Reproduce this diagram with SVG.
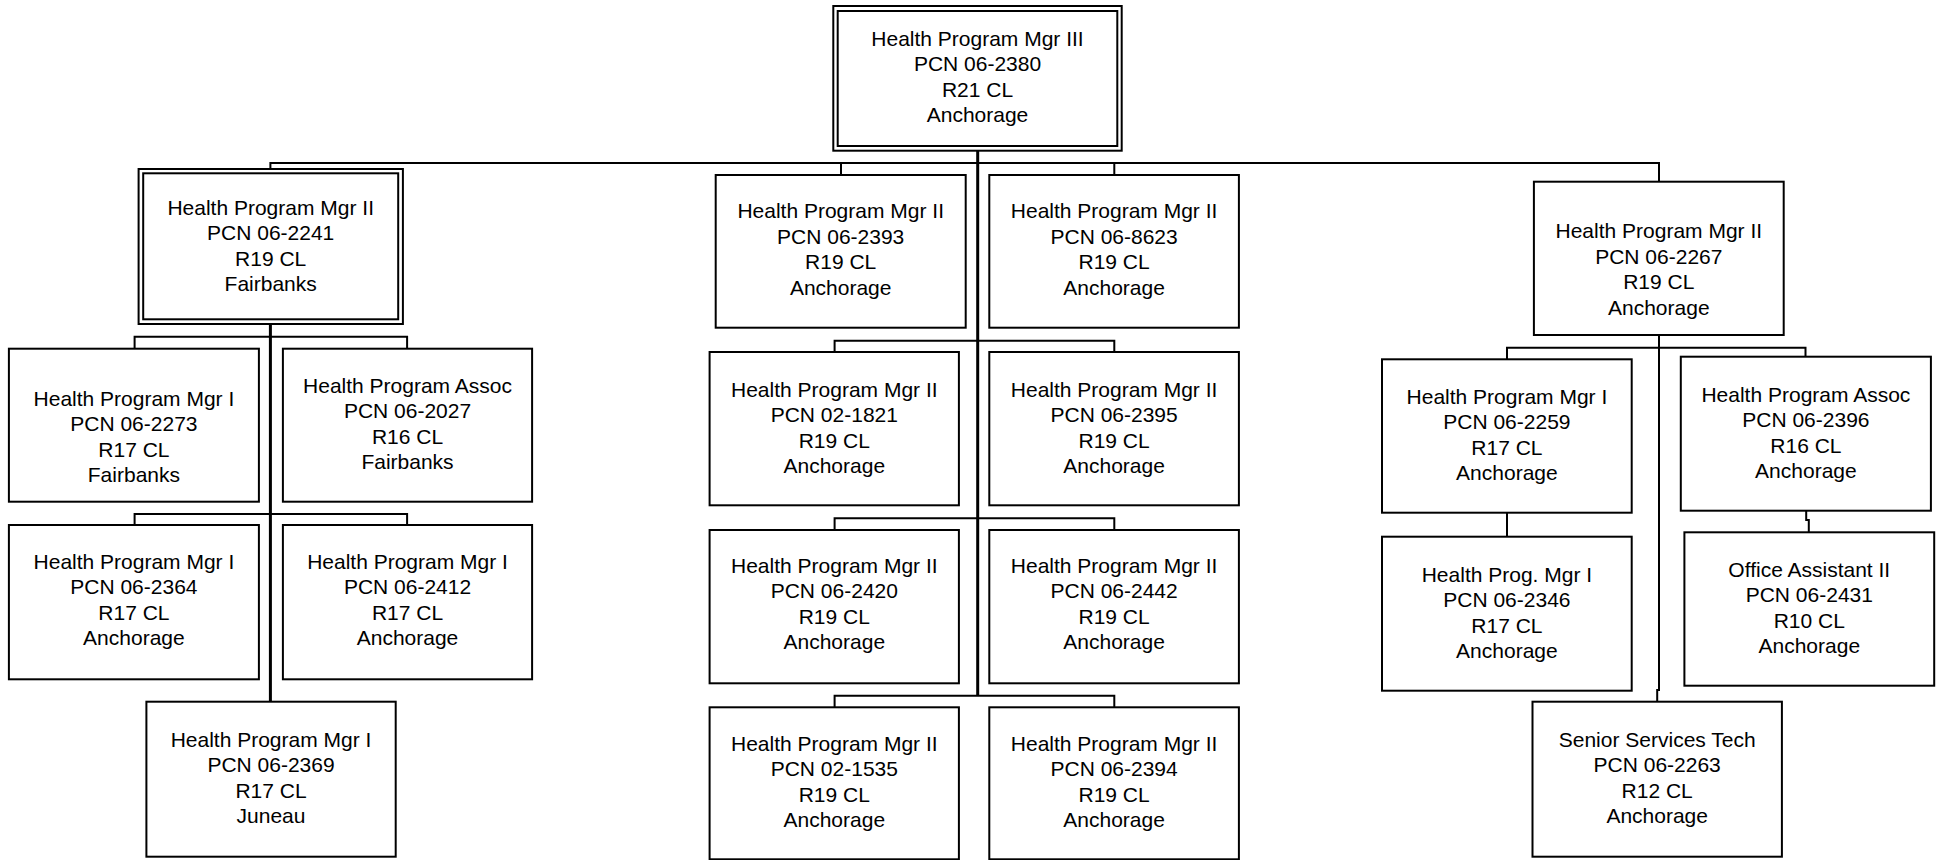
<svg xmlns="http://www.w3.org/2000/svg" width="1940" height="860" viewBox="0 0 1940 860">
<style>
.box{fill:#fff;stroke:#000;stroke-width:2}
.t{font-family:"Liberation Sans",Arial,sans-serif;font-size:21px;fill:#000;text-anchor:middle}
.c{fill:none;stroke:#000;stroke-width:2}
.k{fill:none;stroke:#000;stroke-width:3}
</style>
<rect width="1940" height="860" fill="#fff"/>
<g id="connectors">
<path class="k" d="M977.7 150.7V695.7"/>
<path class="c" d="M270.4 169V163H1659V181.7M841 163V175M1114.3 163V175"/>
<path class="c" d="M834.6 352V340.7H1114.3V352M834.6 530V518.3H1114.3V530M834.6 707.3V695.7H1114.3V707.3"/>
<path class="k" d="M270.4 324V701.7"/>
<path class="c" d="M134.6 348.7V336.7H407.1V348.7M134.6 525V514H407.1V525"/>
<path class="c" d="M1659 335V690H1657.2V701.7M1507 359.3V347.7H1805.5V356.7M1507 512.7V536.7M1806.2 510.7V520H1808.8V532.3"/>
</g>
<g id="n2380"><rect class="box" x="833.3" y="6" width="288.4" height="144.7"/><rect class="box" x="837.7" y="11" width="279.6" height="135"/>
<text class="t" x="977.5" y="46"><tspan x="977.5">Health Program Mgr III</tspan><tspan x="977.5" dy="25.4">PCN 06-2380</tspan><tspan x="977.5" dy="25.4">R21 CL</tspan><tspan x="977.5" dy="25.4">Anchorage</tspan></text></g>
<g id="n2241"><rect class="box" x="138.6" y="169" width="264.3" height="155"/><rect class="box" x="143.2" y="173.3" width="255" height="146"/>
<text class="t" x="270.7" y="215"><tspan x="270.7">Health Program Mgr II</tspan><tspan x="270.7" dy="25.4">PCN 06-2241</tspan><tspan x="270.7" dy="25.4">R19 CL</tspan><tspan x="270.7" dy="25.4">Fairbanks</tspan></text></g>
<g id="n2273"><rect class="box" x="8.9" y="348.7" width="250" height="153"/>
<text class="t" x="133.9" y="406"><tspan x="133.9">Health Program Mgr I</tspan><tspan x="133.9" dy="25.4">PCN 06-2273</tspan><tspan x="133.9" dy="25.4">R17 CL</tspan><tspan x="133.9" dy="25.4">Fairbanks</tspan></text></g>
<g id="n2027"><rect class="box" x="282.9" y="348.7" width="249.2" height="153"/>
<text class="t" x="407.5" y="393"><tspan x="407.5">Health Program Assoc</tspan><tspan x="407.5" dy="25.4">PCN 06-2027</tspan><tspan x="407.5" dy="25.4">R16 CL</tspan><tspan x="407.5" dy="25.4">Fairbanks</tspan></text></g>
<g id="n2364"><rect class="box" x="8.9" y="525" width="250" height="154.3"/>
<text class="t" x="133.9" y="569"><tspan x="133.9">Health Program Mgr I</tspan><tspan x="133.9" dy="25.4">PCN 06-2364</tspan><tspan x="133.9" dy="25.4">R17 CL</tspan><tspan x="133.9" dy="25.4">Anchorage</tspan></text></g>
<g id="n2412"><rect class="box" x="282.9" y="525" width="249.2" height="154.3"/>
<text class="t" x="407.5" y="569"><tspan x="407.5">Health Program Mgr I</tspan><tspan x="407.5" dy="25.4">PCN 06-2412</tspan><tspan x="407.5" dy="25.4">R17 CL</tspan><tspan x="407.5" dy="25.4">Anchorage</tspan></text></g>
<g id="n2369"><rect class="box" x="146.4" y="701.7" width="249.3" height="155"/>
<text class="t" x="271" y="746.7"><tspan x="271">Health Program Mgr I</tspan><tspan x="271" dy="25.4">PCN 06-2369</tspan><tspan x="271" dy="25.4">R17 CL</tspan><tspan x="271" dy="25.4">Juneau</tspan></text></g>
<g id="n2393"><rect class="box" x="715.7" y="175" width="250" height="152.7"/>
<text class="t" x="840.7" y="218.3"><tspan x="840.7">Health Program Mgr II</tspan><tspan x="840.7" dy="25.4">PCN 06-2393</tspan><tspan x="840.7" dy="25.4">R19 CL</tspan><tspan x="840.7" dy="25.4">Anchorage</tspan></text></g>
<g id="n8623"><rect class="box" x="989.3" y="175" width="249.6" height="152.7"/>
<text class="t" x="1114.1" y="218.3"><tspan x="1114.1">Health Program Mgr II</tspan><tspan x="1114.1" dy="25.4">PCN 06-8623</tspan><tspan x="1114.1" dy="25.4">R19 CL</tspan><tspan x="1114.1" dy="25.4">Anchorage</tspan></text></g>
<g id="n1821"><rect class="box" x="709.6" y="352" width="249.3" height="153.3"/>
<text class="t" x="834.3" y="396.7"><tspan x="834.3">Health Program Mgr II</tspan><tspan x="834.3" dy="25.4">PCN 02-1821</tspan><tspan x="834.3" dy="25.4">R19 CL</tspan><tspan x="834.3" dy="25.4">Anchorage</tspan></text></g>
<g id="n2395"><rect class="box" x="989.3" y="352" width="249.6" height="153.3"/>
<text class="t" x="1114.1" y="396.7"><tspan x="1114.1">Health Program Mgr II</tspan><tspan x="1114.1" dy="25.4">PCN 06-2395</tspan><tspan x="1114.1" dy="25.4">R19 CL</tspan><tspan x="1114.1" dy="25.4">Anchorage</tspan></text></g>
<g id="n2420"><rect class="box" x="709.6" y="530" width="249.3" height="153.3"/>
<text class="t" x="834.3" y="572.7"><tspan x="834.3">Health Program Mgr II</tspan><tspan x="834.3" dy="25.4">PCN 06-2420</tspan><tspan x="834.3" dy="25.4">R19 CL</tspan><tspan x="834.3" dy="25.4">Anchorage</tspan></text></g>
<g id="n2442"><rect class="box" x="989.3" y="530" width="249.6" height="153.3"/>
<text class="t" x="1114.1" y="572.7"><tspan x="1114.1">Health Program Mgr II</tspan><tspan x="1114.1" dy="25.4">PCN 06-2442</tspan><tspan x="1114.1" dy="25.4">R19 CL</tspan><tspan x="1114.1" dy="25.4">Anchorage</tspan></text></g>
<g id="n1535"><rect class="box" x="709.6" y="707.3" width="249.3" height="152"/>
<text class="t" x="834.3" y="750.7"><tspan x="834.3">Health Program Mgr II</tspan><tspan x="834.3" dy="25.4">PCN 02-1535</tspan><tspan x="834.3" dy="25.4">R19 CL</tspan><tspan x="834.3" dy="25.4">Anchorage</tspan></text></g>
<g id="n2394"><rect class="box" x="989.3" y="707.3" width="249.6" height="152"/>
<text class="t" x="1114.1" y="750.7"><tspan x="1114.1">Health Program Mgr II</tspan><tspan x="1114.1" dy="25.4">PCN 06-2394</tspan><tspan x="1114.1" dy="25.4">R19 CL</tspan><tspan x="1114.1" dy="25.4">Anchorage</tspan></text></g>
<g id="n2267"><rect class="box" x="1533.9" y="181.7" width="249.8" height="153.3"/>
<text class="t" x="1658.8" y="238.3"><tspan x="1658.8">Health Program Mgr II</tspan><tspan x="1658.8" dy="25.4">PCN 06-2267</tspan><tspan x="1658.8" dy="25.4">R19 CL</tspan><tspan x="1658.8" dy="25.4">Anchorage</tspan></text></g>
<g id="n2259"><rect class="box" x="1382" y="359.3" width="249.7" height="153.4"/>
<text class="t" x="1506.9" y="404"><tspan x="1506.9">Health Program Mgr I</tspan><tspan x="1506.9" dy="25.4">PCN 06-2259</tspan><tspan x="1506.9" dy="25.4">R17 CL</tspan><tspan x="1506.9" dy="25.4">Anchorage</tspan></text></g>
<g id="n2396"><rect class="box" x="1680.8" y="356.7" width="250.1" height="154"/>
<text class="t" x="1805.9" y="401.7"><tspan x="1805.9">Health Program Assoc</tspan><tspan x="1805.9" dy="25.4">PCN 06-2396</tspan><tspan x="1805.9" dy="25.4">R16 CL</tspan><tspan x="1805.9" dy="25.4">Anchorage</tspan></text></g>
<g id="n2346"><rect class="box" x="1382" y="536.7" width="249.7" height="154"/>
<text class="t" x="1506.9" y="581.7"><tspan x="1506.9">Health Prog. Mgr I</tspan><tspan x="1506.9" dy="25.4">PCN 06-2346</tspan><tspan x="1506.9" dy="25.4">R17 CL</tspan><tspan x="1506.9" dy="25.4">Anchorage</tspan></text></g>
<g id="n2431"><rect class="box" x="1684.4" y="532.3" width="249.8" height="153.4"/>
<text class="t" x="1809.3" y="576.7"><tspan x="1809.3">Office Assistant II</tspan><tspan x="1809.3" dy="25.4">PCN 06-2431</tspan><tspan x="1809.3" dy="25.4">R10 CL</tspan><tspan x="1809.3" dy="25.4">Anchorage</tspan></text></g>
<g id="n2263"><rect class="box" x="1532.5" y="701.7" width="249.4" height="155"/>
<text class="t" x="1657.2" y="746.7"><tspan x="1657.2">Senior Services Tech</tspan><tspan x="1657.2" dy="25.4">PCN 06-2263</tspan><tspan x="1657.2" dy="25.4">R12 CL</tspan><tspan x="1657.2" dy="25.4">Anchorage</tspan></text></g>
</svg>
